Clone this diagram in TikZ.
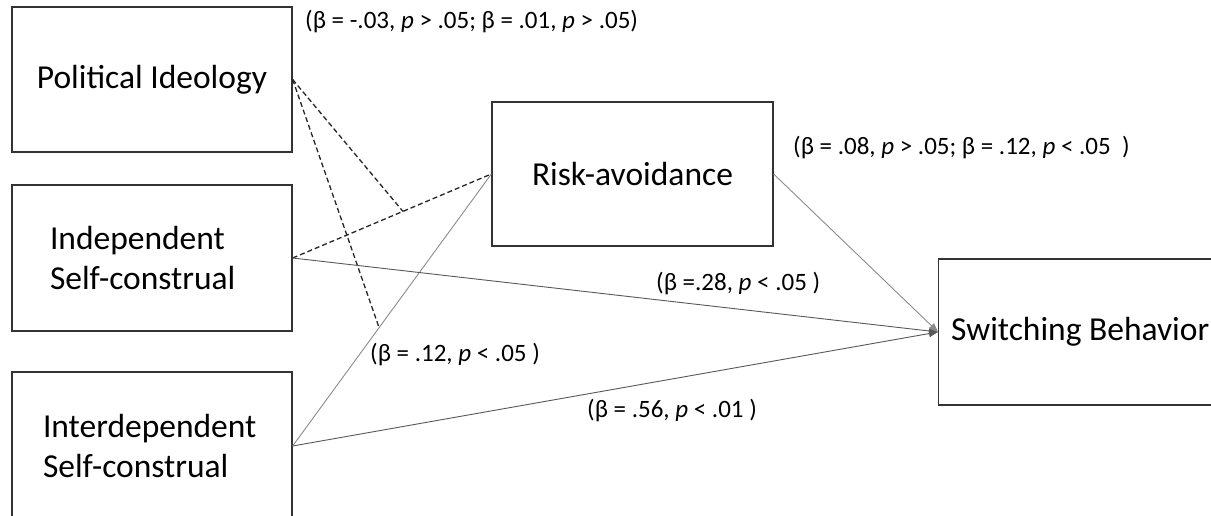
\documentclass[tikz,border=0pt]{standalone}
\usepackage{fontspec}
\setmainfont{Carlito}
\usetikzlibrary{arrows.meta,calc}
\begin{document}
\begin{tikzpicture}[x=1pt,y=-1pt,
  box/.style={draw=black!80, line width=1.3pt, inner sep=0pt, font=\fontsize{33.5}{40}\selectfont},
  boxtext/.style={inner sep=0pt, font=\fontsize{33.5}{40}\selectfont},
  lbl/.style={font=\fontsize{25}{29}\selectfont, anchor=west, inner sep=0pt},
  dashline/.style={draw=black!85, line width=1.3pt, dash pattern=on 5pt off 3pt},
  soliddark/.style={draw=black!65, line width=0.9pt},
  solidlight/.style={draw=black!45, line width=0.9pt},
  tip/.style={-{Triangle[length=9pt,width=7pt]}}
]
\useasboundingbox (0,0) rectangle (1211,516);
\clip (0,0) rectangle (1211,516);
\fill[white] (0,0) rectangle (1211,516);

% boxes
\node[box, minimum width=280pt, minimum height=145pt] (pol) at (152,79.5) {Political Ideology};
\node[box, minimum width=280pt, minimum height=146pt, text width=204pt, align=left] (ind) at (152,258) {Independent\\Self-construal};
\node[box, minimum width=280pt, minimum height=148pt, text width=218pt, align=left] (int) at (152,446) {Interdependent\\Self-construal};
\node[box, minimum width=281pt, minimum height=144pt] (risk) at (632.5,174) {Risk-avoidance};
\node[box, anchor=west, minimum width=304pt, minimum height=146pt] (sw) at (938,332) {};
\node[boxtext, anchor=west] (swt) at (951,332) {Switching Behavior};

% connectors
\coordinate (m1) at ($(ind.east)!0.555!(risk.west)$);
\coordinate (m2) at ($(int.east)!0.435!(risk.west)$);
\draw[dashline] (ind.east) -- (risk.west);
\draw[dashline] (pol.east) -- (m1);
\draw[dashline] (pol.east) -- (m2);
\draw[solidlight] (int.east) -- (risk.west);
\draw[soliddark, tip] (ind.east) -- (sw.west);
\draw[soliddark, tip] (int.east) -- (sw.west);
\draw[solidlight, tip] (risk.east) -- (sw.west);

% labels
\node[lbl] (l1) at (305,22) {(β = -.03, \textit{p} > .05; β = .01, \textit{p} > .05)};
\node[lbl] (l2) at (793,148) {(β = .08, \textit{p} > .05; β = .12, \textit{p} < .05\ \ )};
\node[lbl] (l3) at (656,284) {(β =.28, \textit{p} < .05 )};
\node[lbl] (l4) at (370,355) {(β = .12, \textit{p} < .05 )};
\node[lbl] (l5) at (587,411) {(β = .56, \textit{p} < .01 )};
\end{tikzpicture}
\end{document}
